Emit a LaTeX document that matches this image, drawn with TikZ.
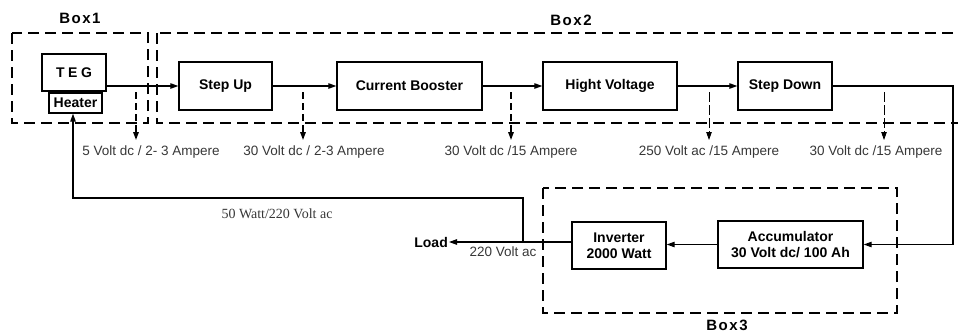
\documentclass[tikz,border=0pt]{standalone}
\usepackage{fontspec}
\setmainfont{Liberation Sans}
\newfontfamily\timesfont{Liberation Serif}
\usetikzlibrary{arrows.meta,positioning}
\definecolor{labelgray}{RGB}{55,55,55}

\tikzset{
  blockbox/.style={draw, line width=1.4pt, inner sep=1pt, align=center,
    font=\fontsize{14}{16.5}\selectfont\bfseries},
  groupbox/.style={draw, line width=2.4pt, dash pattern=on 11pt off 6pt},
  flow/.style={line width=1.1pt, -{Triangle[length=8pt,width=5.5pt]}},
  dropline/.style={line width=1.5pt, dash pattern=on 7pt off 4pt, -{Triangle[length=8pt,width=5.5pt]}},
  thindrop/.style={line width=0.8pt, dash pattern=on 10pt off 3pt, -{Triangle[length=8pt,width=5.5pt]}},
  valuelabel/.style={font=\fontsize{13.5}{15}\selectfont, text=labelgray, inner sep=0pt},
  boxlabel/.style={font=\fontsize{15}{17}\selectfont\bfseries\addfontfeature{LetterSpace=10}},
  loadlabel/.style={font=\fontsize{14}{16}\selectfont\bfseries, inner sep=1pt}
}

\begin{document}
\begin{tikzpicture}[x=1pt, y=-1pt]
  \useasboundingbox (0,0) rectangle (958,333);

  % Group boxes
  \draw[groupbox] (12,33) rectangle (148,123);
  \draw[groupbox] (157,33) rectangle (975,123);
  \draw[groupbox] (543,188) rectangle (897,313);
  \node[boxlabel] (boxone) at (80,18) {Box1};
  \node[boxlabel] (boxtwo) at (571,20) {Box2};
  \node[boxlabel] (boxthree) at (727,325) {Box3};

  % Generator with heater
  \node[blockbox, minimum width=64pt, minimum height=37pt] (teg) at (74,72.5) {\addfontfeature{LetterSpace=25}TEG};
  \node[blockbox, minimum width=53pt, minimum height=20pt] (heater) at (75.5,103) {Heater};

  % Converter chain
  \node[blockbox, minimum width=93pt, minimum height=48pt] (stepup) at (225.5,86) {Step Up};
  \node[blockbox, minimum width=145pt, minimum height=48pt] (booster) at (409.5,86) {Current Booster};
  \node[blockbox, minimum width=134pt, minimum height=48pt] (hivolt) at (610,86) {Hight Voltage};
  \node[blockbox, minimum width=94pt, minimum height=48pt] (stepdown) at (785,86) {Step Down};

  % Storage and inverter
  \node[blockbox, minimum width=145pt, minimum height=47pt] (accu) at (790.5,244.5) {Accumulator\\30 Volt dc/ 100 Ah};
  \node[blockbox, minimum width=94pt, minimum height=47pt] (inverter) at (619,245.5) {Inverter\\2000 Watt};
  \node[loadlabel, anchor=east] (load) at (449,242) {Load};

  % Main power path
  \draw[flow] (stepup.west -| teg.east) -- (stepup.west);
  \draw[flow] (stepup) -- (booster);
  \draw[flow] (booster) -- (hivolt);
  \draw[flow] (hivolt) -- (stepdown);
  \coordinate (turn) at (953,86);
  \draw[flow] (stepdown.east) -- (turn) |- (accu.east);
  \draw[flow] (accu.west) -- (accu.west -| inverter.east);
  \draw[flow] (inverter.west |- 0,242) -- (load.east);

  % Feedback to heater
  \coordinate (branch) at (523,242);
  \coordinate (feed) at (73,198);
  \draw[flow] (branch) |- (feed) -- (feed |- heater.south);

  % Measurement taps
  \draw[dropline] (136,92) -- (136,140);
  \draw[dropline] (303,92) -- (303,140);
  \draw[dropline] (511,92) -- (511,140);
  \draw[thindrop] (709,92) -- (709,140);
  \draw[thindrop] (884,92) -- (884,140);

  % Values
  \node[valuelabel] (vteg) at (151,152) {5 Volt dc / 2- 3 Ampere};
  \node[valuelabel] (vup) at (314,152) {30 Volt dc / 2-3 Ampere};
  \node[valuelabel] (vboost) at (511,152) {30 Volt dc /15 Ampere};
  \node[valuelabel] (vhigh) at (709,152) {250 Volt ac /15 Ampere};
  \node[valuelabel] (vdown) at (876,152) {30 Volt dc /15 Ampere};
  \node[valuelabel] (vload) at (503,252) {220 Volt ac};
  \node[valuelabel, font=\timesfont\fontsize{14}{16}\selectfont] (vfeed) at (277,214) {50 Watt/220 Volt ac};
\end{tikzpicture}
\end{document}
